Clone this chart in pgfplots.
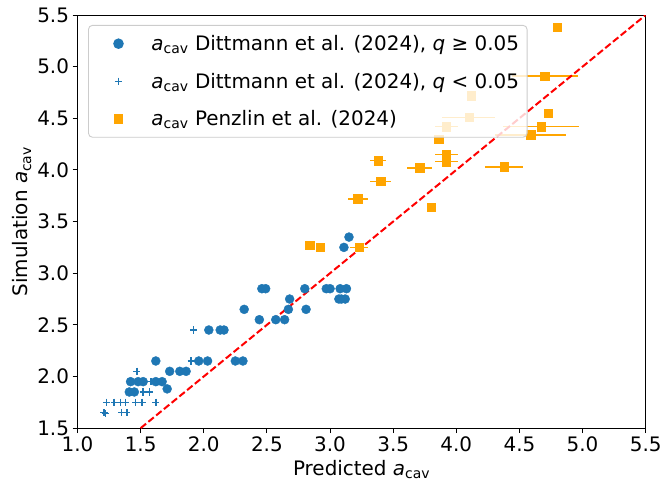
\documentclass[border=0pt]{standalone}
\usepackage{fontspec}
\setmainfont{DejaVu Sans}
\usepackage{pgfplots}
\pgfplotsset{compat=1.18}
\usepackage{pgfplotstable}

\definecolor{tabblue}{HTML}{1F77B4}
\definecolor{mplorange}{HTML}{FFA500}
\definecolor{legendgray}{HTML}{CCCCCC}

\newcommand{\acav}{\textit{a}\textsubscript{cav}}

% Dittmann et al., q >= 0.05
\pgfplotstableread{
x y
1.41 1.85
1.45 1.85
1.42 1.95
1.48 1.95
1.52 1.95
1.62 1.95
1.67 1.95
1.71 1.88
1.62 2.15
1.96 2.15
2.03 2.15
2.25 2.15
2.31 2.15
1.73 2.05
1.81 2.05
1.86 2.05
2.04 2.45
2.13 2.45
2.16 2.45
2.44 2.55
2.57 2.55
2.64 2.55
2.32 2.65
2.67 2.65
2.81 2.65
2.68 2.75
3.07 2.75
3.09 2.75
3.12 2.75
2.46 2.85
2.49 2.85
2.80 2.85
2.97 2.85
3.00 2.85
3.08 2.85
3.13 2.85
3.11 3.25
3.15 3.35
}\dittA

% Dittmann et al., q < 0.05
\pgfplotstableread{
x y
1.21 1.65
1.22 1.64
1.35 1.65
1.39 1.65
1.23 1.75
1.29 1.75
1.34 1.75
1.38 1.75
1.46 1.75
1.51 1.75
1.62 1.75
1.52 1.85
1.57 1.85
1.58 1.95
1.47 2.05
1.90 2.15
1.92 2.45
}\dittB

% Penzlin et al.
\pgfplotstableread{
x y ex
2.84 3.27 0
2.92 3.25 0
3.23 3.25 0.07
3.22 3.72 0.08
3.38 4.09 0.06
3.40 3.89 0.08
3.71 4.02 0.10
3.80 3.64 0
3.86 4.30 0
3.92 4.15 0.09
3.92 4.08 0.09
3.92 4.42 0.09
4.10 4.51 0.21
4.12 4.72 0
4.38 4.03 0.15
4.59 4.34 0.28
4.67 4.42 0.30
4.73 4.55 0
4.70 4.91 0.26
4.80 5.38 0
}\penzlin

\begin{document}
\begin{tikzpicture}
\useasboundingbox (-77.5bp,-59.7bp) rectangle (584.3bp,428bp);
\begin{axis}[
  scale only axis, width=568bp, height=413bp,
  xmin=1, xmax=5.5, ymin=1.5, ymax=5.5,
  xtick={1,1.5,2,2.5,3,3.5,4,4.5,5,5.5},
  ytick={1.5,2,2.5,3,3.5,4,4.5,5,5.5},
  /pgf/number format/.cd, fixed, fixed zerofill, precision=1, assume math mode=true, /pgfplots/.cd,
  tick align=outside, tick pos=left, major tick length=5bp,
  tick style={black, line width=0.9bp},
  axis line style={line width=0.9bp},
  ticklabel style={font=\fontsize{20}{24}\selectfont},
  label style={font=\fontsize{20}{24}\selectfont},
  xlabel={Predicted \acav},
  ylabel={Simulation \acav},
  xlabel style={at={(axis description cs:0.5,-0.101)}, anchor=center},
  ylabel style={at={(axis description cs:-0.0977,0.5)}, anchor=center},
  legend cell align=left,
  legend image code/.code={\path[draw=none, fill=none] (0bp,0bp) -- (55bp,0bp);
    \draw[only marks,#1,fill opacity=1,draw opacity=1,sharp corners,line width=1.5bp] plot coordinates {(24bp,0bp)};},
  legend style={at={(axis description cs:0.0185,0.976)}, anchor=north west,
    fill=white, fill opacity=0.8, draw opacity=1, text opacity=1,
    draw=legendgray, line width=0.9bp, rounded corners=4bp,
    font=\fontsize{20}{24}\selectfont, inner xsep=6bp, inner ysep=8bp, row sep=17bp},
]
\addplot[only marks, mark=*, mark size=4.5bp, color=tabblue, mark options={draw=none, fill=tabblue}]
  table[x=x, y=y] {\dittA};
\addlegendentry{\acav{} Dittmann et al. (2024), \textit{q} ≥ 0.05}
\addplot[only marks, mark=+, mark size=3.6bp, color=tabblue, line width=1.5bp, mark options={solid, line width=1.5bp}]
  table[x=x, y=y] {\dittB};
\addlegendentry{\acav{} Dittmann et al. (2024), \textit{q} < 0.05}
\addplot[only marks, mark=square*, mark size=4.2bp, color=mplorange, mark options={draw=none, fill=mplorange},
  error bars/.cd, x dir=both, x explicit, error mark=none,
  error bar style={mplorange, line width=1.5bp, solid}]
  table[x=x, y=y, x error=ex] {\penzlin};
\addlegendentry{\acav{} Penzlin et al. (2024)}
\addplot[red, line width=2bp, dash pattern=on 7bp off 3bp, forget plot]
  coordinates {(1.5,1.5) (5.5,5.5)};
\end{axis}
\end{tikzpicture}
\end{document}
